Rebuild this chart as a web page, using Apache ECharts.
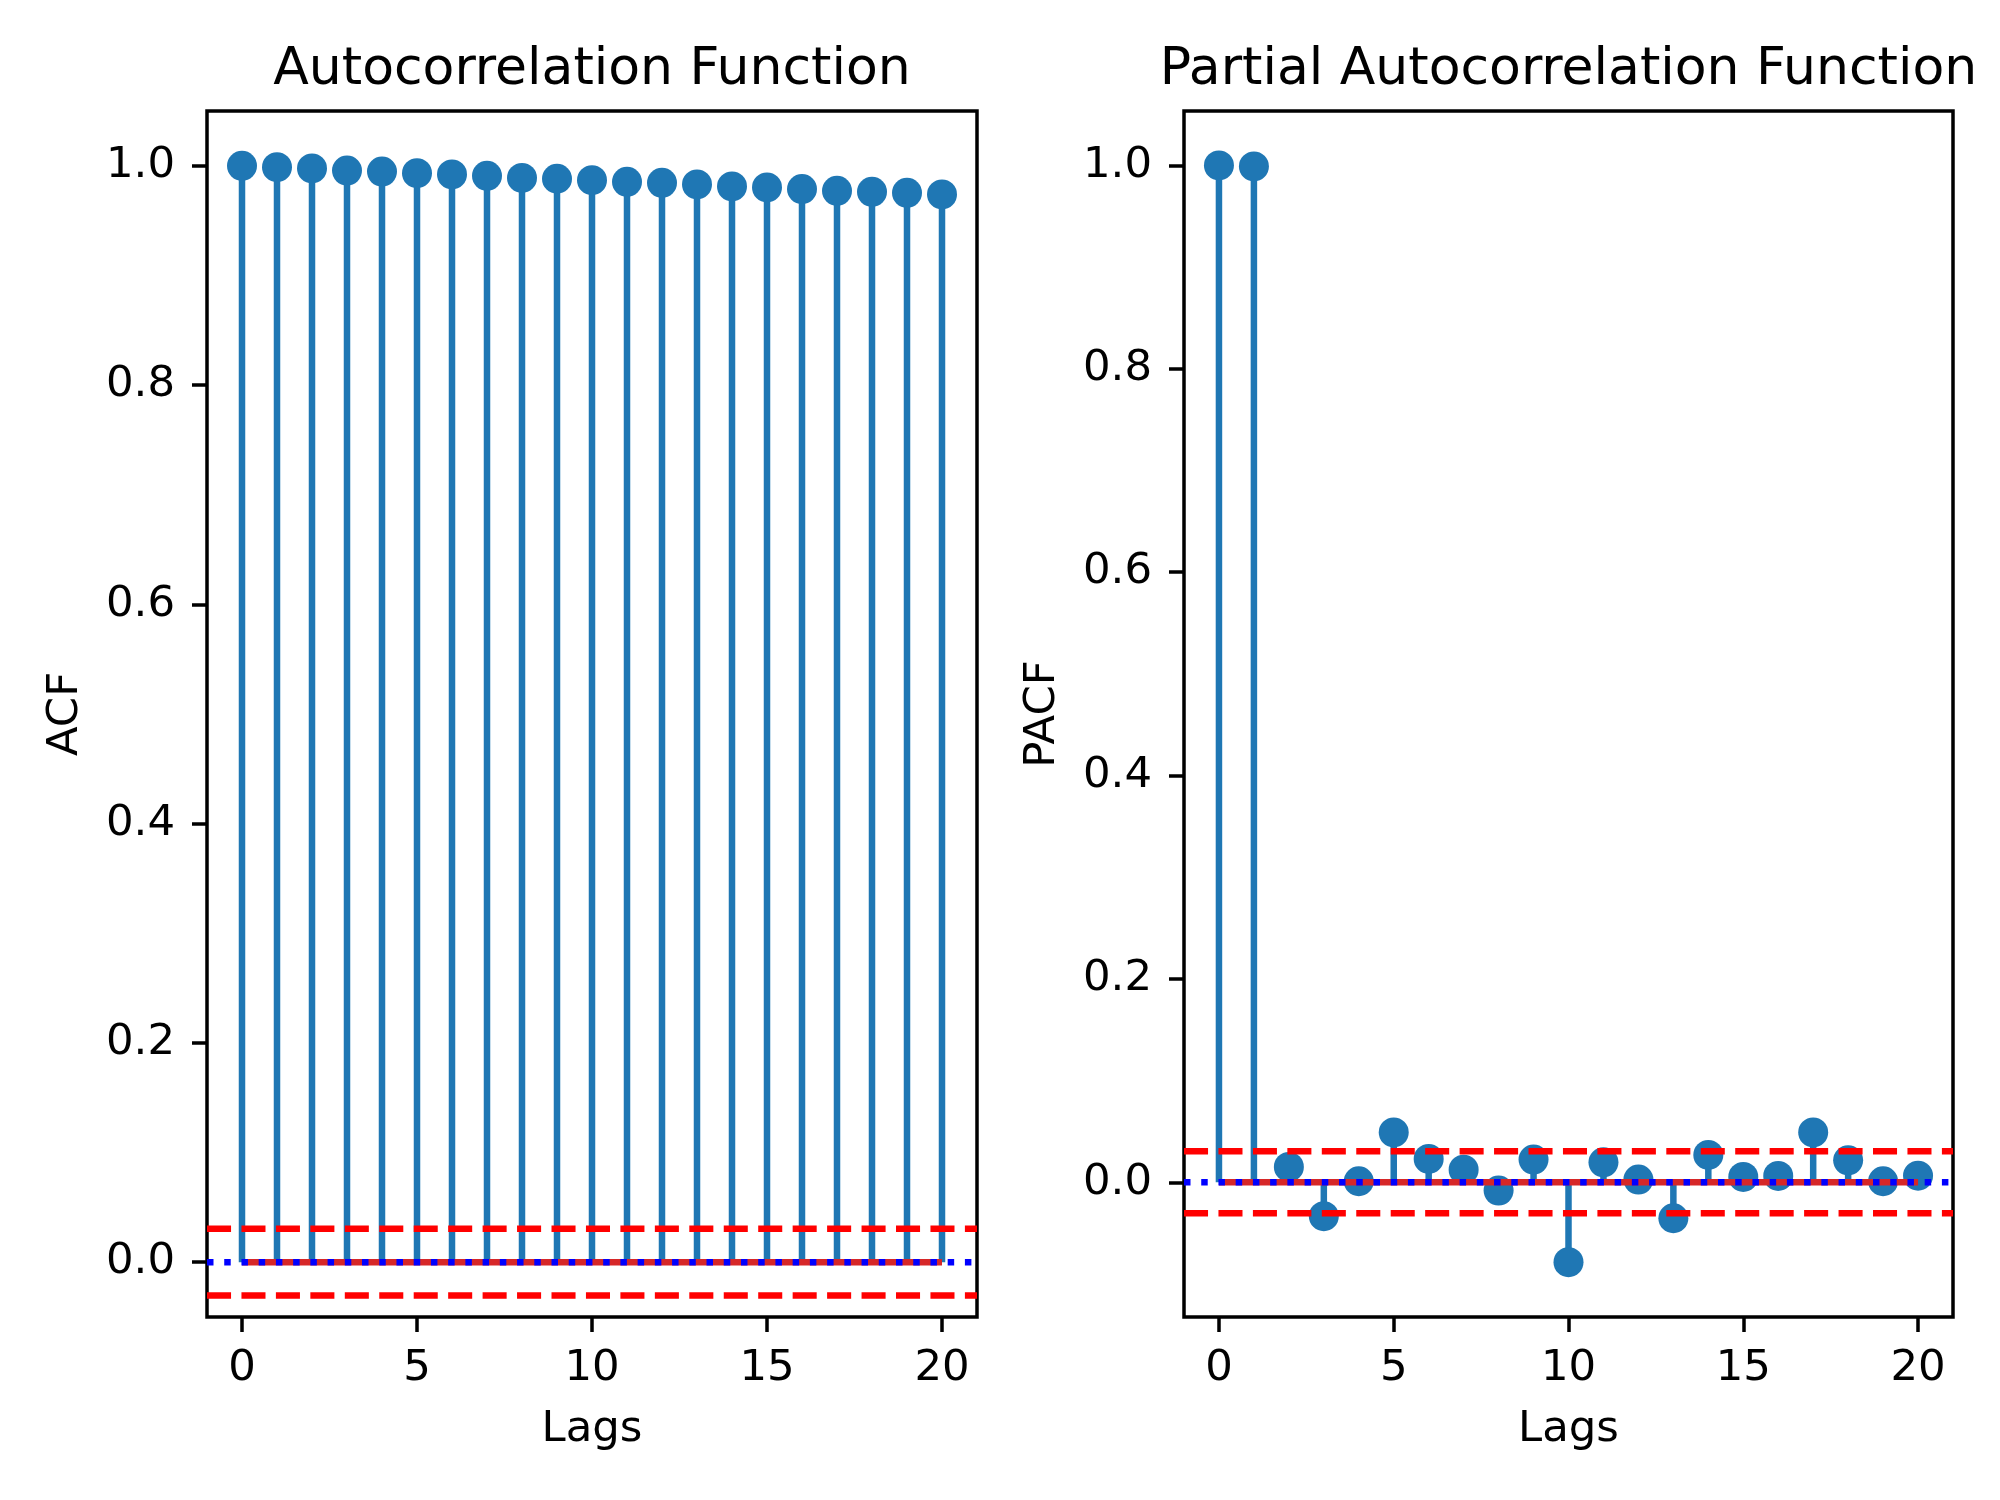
<!DOCTYPE html>
<html><head><meta charset="utf-8">
<script src="https://cdn.jsdelivr.net/npm/echarts@6/dist/echarts.min.js"></script>
<style>html,body{margin:0;padding:0;background:#fff}#c{width:2000px;height:1500px}</style>
</head><body><div id="c"></div>
<script>
const lags = [0,1,2,3,4,5,6,7,8,9,10,11,12,13,14,15,16,17,18,19,20];
const acfValues = [1.0, 0.9988, 0.9976, 0.9957, 0.9948, 0.9933, 0.9921, 0.9909, 0.9890, 0.9882, 0.9869, 0.9854, 0.9845, 0.9830, 0.9812, 0.9803, 0.9788, 0.9772, 0.9763, 0.9754, 0.9739];
const pacfValues = [1.0, 0.999, 0.0151, -0.0334, 0.001, 0.049, 0.023, 0.0124, -0.0082, 0.0223, -0.0786, 0.0196, 0.0026, -0.0354, 0.0269, 0.0052, 0.0062, 0.049, 0.0216, 0.001, 0.0065];
const confBound = 0.0305;
const xTicks = [0,5,10,15,20];
const yTicks = [0,0.2,0.4,0.6,0.8,1.0];
const panelTitles = ['Autocorrelation Function', 'Partial Autocorrelation Function'];
const yNames = ['ACF', 'PACF'];
const xName = 'Lags';

const FONT = 'DejaVu Sans';
const LW = 6.5;
const grids = [
  {left: 207, top: 111, width: 770, height: 1206},
  {left: 1184, top: 111, width: 769, height: 1206}
];
const yLims = [[-0.05, 1.05], [-0.1325, 1.0535]];
const panels = [acfValues, pacfValues];

const option = {
  animation: false,
  backgroundColor: '#fff',
  grid: grids.map(g => Object.assign({show: true, borderColor: '#000', borderWidth: 3.5, backgroundColor: '#fff', containLabel: false}, g)),
  xAxis: grids.map((g, i) => ({
    type: 'value', gridIndex: i, min: -1, max: 21, position: 'bottom',
    splitLine: {show: false},
    axisLine: {show: false, onZero: false},
    axisTick: {show: true, inside: false, customValues: xTicks, length: 15, lineStyle: {color: '#000', width: 3.5}},
    axisLabel: {show: true, customValues: xTicks, margin: 30, fontSize: 43.4, fontFamily: FONT, color: '#000', formatter: v => String(v)}
  })),
  yAxis: grids.map((g, i) => ({
    type: 'value', gridIndex: i, min: yLims[i][0], max: yLims[i][1], position: 'left',
    splitLine: {show: false},
    axisLine: {show: false, onZero: false},
    axisTick: {show: true, inside: false, customValues: yTicks, length: 15, lineStyle: {color: '#000', width: 3.5}},
    axisLabel: {show: true, customValues: yTicks, margin: 32, fontSize: 43.4, fontFamily: FONT, color: '#000', formatter: v => v.toFixed(1)}
  })),
  series: [],
  graphic: []
};

panels.forEach((vals, i) => {
  const pts = lags.map((l, k) => [l, vals[k]]);
  option.series.push(
    {type: 'bar', xAxisIndex: i, yAxisIndex: i, data: pts, barWidth: LW, itemStyle: {color: '#1f77b4', opacity: 1}, silent: true, z: 2},
    {type: 'scatter', xAxisIndex: i, yAxisIndex: i, data: pts, symbolSize: 30, itemStyle: {color: '#1f77b4', opacity: 1}, silent: true, z: 3},
    {type: 'line', xAxisIndex: i, yAxisIndex: i, data: [[lags[0], 0], [lags[lags.length - 1], 0]], showSymbol: false, symbol: 'none', lineStyle: {color: '#d62728', width: LW}, silent: true, z: 4},
    {type: 'line', xAxisIndex: i, yAxisIndex: i, data: [[-1, 0], [21, 0]], showSymbol: false, symbol: 'none', lineStyle: {color: '#0000ff', width: LW, type: [LW, 1.65 * LW]}, silent: true, z: 5},
    {type: 'line', xAxisIndex: i, yAxisIndex: i, data: [[-1, confBound], [21, confBound]], showSymbol: false, symbol: 'none', lineStyle: {color: '#ff0000', width: LW, type: [3.7 * LW, 1.6 * LW]}, silent: true, z: 6},
    {type: 'line', xAxisIndex: i, yAxisIndex: i, data: [[-1, -confBound], [21, -confBound]], showSymbol: false, symbol: 'none', lineStyle: {color: '#ff0000', width: LW, type: [3.7 * LW, 1.6 * LW]}, silent: true, z: 6}
  );
  const g = grids[i];
  const cx = g.left + g.width / 2;
  option.graphic.push(
    {type: 'text', x: cx, y: 70, style: {text: panelTitles[i], font: '52px "DejaVu Sans"', fill: '#000', textAlign: 'center', textVerticalAlign: 'middle', align: 'center', verticalAlign: 'middle'}},
    {type: 'text', x: cx, y: 1430, style: {text: xName, font: '43.4px "DejaVu Sans"', fill: '#000', textAlign: 'center', textVerticalAlign: 'middle', align: 'center', verticalAlign: 'middle'}},
    {type: 'text', x: g.left - 141, y: g.top + g.height / 2, rotation: Math.PI / 2, style: {text: yNames[i], font: '43.4px "DejaVu Sans"', fill: '#000', textAlign: 'center', textVerticalAlign: 'middle', align: 'center', verticalAlign: 'middle'}}
  );
});

const chart = echarts.init(document.getElementById('c'), null, {renderer: 'canvas'});
chart.setOption(option);
</script>
</body></html>
